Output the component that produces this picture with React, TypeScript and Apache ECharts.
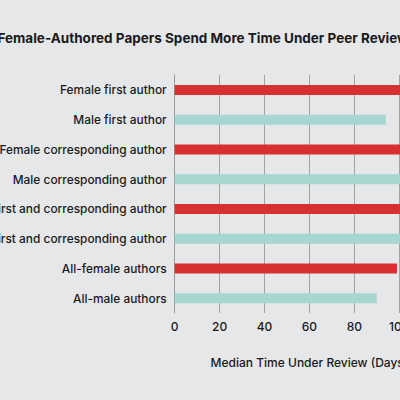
import React, { useEffect, useRef } from "react";
import * as echarts from "echarts";

const categories = [
  "Female first author",
  "Male first author",
  "Female corresponding author",
  "Male corresponding author",
  "Female first and corresponding author",
  "Male first and corresponding author",
  "All-female authors",
  "All-male authors",
];
const values = [108, 94, 110, 104, 112, 103, 99, 90];
const colors = ["#d63031", "#a7d5cf", "#d63031", "#a7d5cf", "#d63031", "#a7d5cf", "#d63031", "#a7d5cf"];
const xTicks = [0, 20, 40, 60, 80, 100, 120];

const FONT = "Inter";

export default function App() {
  const ref = useRef<HTMLDivElement>(null);
  useEffect(() => {
    const chart = echarts.init(ref.current!, null, { renderer: "svg" });
    chart.setOption({
      animation: false,
      backgroundColor: "#e6e7e9",
      title: {
        text: "Female-Authored Papers Spend More Time Under Peer Review",
        left: "center",
        top: 26,
        textStyle: { fontFamily: FONT, fontSize: 13.5, fontWeight: "bold", color: "#1a1a1a" },
      },
      grid: { left: 234.7, right: 21.9, top: 75, bottom: 87 },
      xAxis: {
        type: "value",
        min: xTicks[0],
        max: xTicks[xTicks.length - 1],
        interval: 20,
        name: "Median Time Under Review (Days)",
        nameLocation: "middle",
        nameGap: 43,
        nameTextStyle: { fontFamily: FONT, fontSize: 12, fontWeight: 500, color: "#1a1a1a" },
        axisLine: { show: false },
        axisTick: { show: false },
        axisLabel: { fontFamily: FONT, fontSize: 12, fontWeight: 500, color: "#1a1a1a", margin: 7 },
        splitLine: { show: true, lineStyle: { color: "#a3a3a3", width: 1 } },
      },
      yAxis: {
        type: "category",
        data: categories,
        inverse: true,
        axisLine: { show: true, lineStyle: { color: "#9a9a9a", width: 1 } },
        axisTick: { show: false },
        axisLabel: { fontFamily: FONT, fontSize: 11.9, fontWeight: 500, color: "#1a1a1a", margin: 8 },
      },
      series: [
        {
          type: "bar",
          barWidth: 10,
          data: values.map((v, i) => ({ value: v, itemStyle: { color: colors[i] } })),
        },
      ],
    });
    return () => chart.dispose();
  }, []);
  return (
    <div style={{ position: "fixed", left: 0, top: 0, width: 400, height: 400, overflow: "hidden", background: "#e6e7e9" }}>
      <div ref={ref} style={{ position: "absolute", left: -60, top: 0, width: 526, height: 400 }} />
    </div>
  );
}
